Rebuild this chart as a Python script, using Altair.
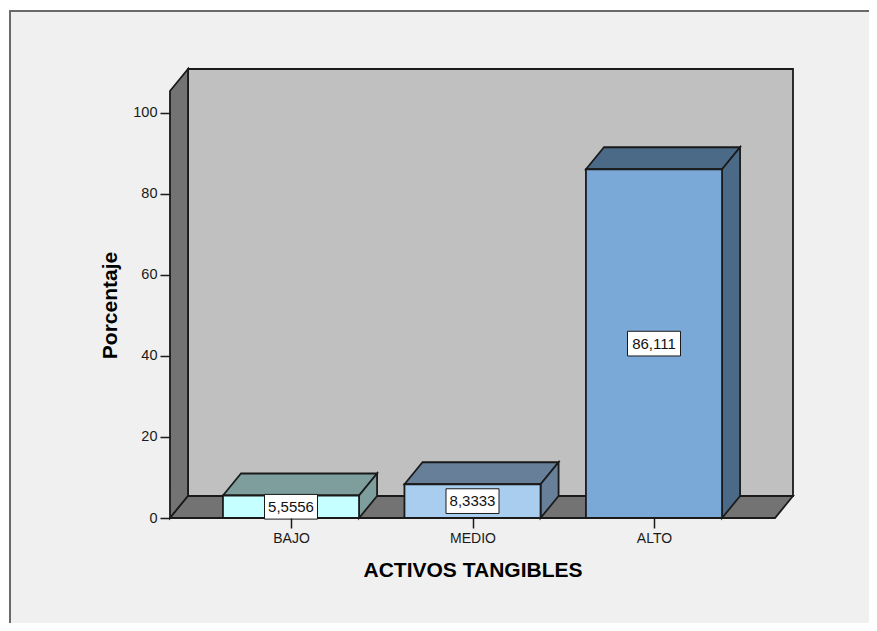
import altair as alt
import pandas as pd

categories = ["BAJO", "MEDIO", "ALTO"]
values = [5.5556, 8.3333, 86.111]
value_labels = ["5,5556", "8,3333", "86,111"]
front_colors = ["#c6ffff", "#a9cdee", "#7ba9d7"]
dark_colors = ["#7d9e9c", "#677f99", "#4b6a88"]
y_ticks = [0, 20, 40, 60, 80, 100]

# scale layout
X_MIN, X_FRONT, X_MAX = -0.6667, 2.6667, 2.7658
Y_MAX = 110.86
DX, DY = 0.0992, 5.43      # oblique depth of the 3-D projection
HALF_BAR = 0.375
BOX_W, BOX_H = 0.146, 3.05
EDGE = "#1a1a1a"
SW = 1.8

xs = alt.Scale(domain=[X_MIN, X_MAX], nice=False, zero=False)
ys = alt.Scale(domain=[0, Y_MAX], nice=False, zero=False)

label_expr = "[" + ",".join(f"'{c}'" for c in categories) + "][datum.value]"
x_axis = alt.Axis(
    values=[0, 1, 2], labelExpr=label_expr, grid=False, domain=False, zindex=1,
    tickSize=10, tickWidth=1.5, tickColor=EDGE, labelPadding=3,
    labelFont="Liberation Sans", labelFontSize=14, labelColor="#1a1a1a",
    title="ACTIVOS TANGIBLES", titleFont="Liberation Sans", titleFontSize=21,
    titleFontWeight="bold", titleColor="#000000", titleX=302.5, titleY=52,
    titleBaseline="middle", titleAlign="center", labelFlush=False,
)
y_axis = alt.Axis(
    values=y_ticks, grid=False, domain=False, zindex=1,
    tickSize=10, tickWidth=1.5, tickColor=EDGE, labelPadding=3,
    labelFont="Liberation Sans", labelFontSize=14.5, labelColor="#1a1a1a",
    title="Porcentaje", titleFont="Liberation Sans", titleFontSize=21,
    titleFontWeight="bold", titleColor="#000000", titleX=-60, titleY=236,
    titleBaseline="middle", titleAlign="center", labelFlush=False,
)


def X(f):
    return alt.X(f, scale=xs, axis=x_axis)


def Y(f):
    return alt.Y(f, scale=ys, axis=y_axis)


front = pd.DataFrame({
    "x": [i - HALF_BAR for i in range(3)],
    "x2": [i + HALF_BAR for i in range(3)],
    "y": [0.0] * 3,
    "v": values,
    "c": front_colors,
})
top_rows, side_rows = [], []
for i, v in enumerate(values):
    top_rows += [
        {"b": i, "y": v, "x": i - HALF_BAR, "x2": i + HALF_BAR, "c": dark_colors[i]},
        {"b": i, "y": v + DY, "x": i - HALF_BAR + DX, "x2": i + HALF_BAR + DX, "c": dark_colors[i]},
    ]
    side_rows += [
        {"b": i, "x": i + HALF_BAR, "y": 0.0, "y2": v, "c": dark_colors[i]},
        {"b": i, "x": i + HALF_BAR + DX, "y": DY, "y2": v + DY, "c": dark_colors[i]},
    ]
top = pd.DataFrame(top_rows)
side = pd.DataFrame(side_rows)
labels = pd.DataFrame({
    "x": list(range(3)),
    "xa": [i - BOX_W for i in range(3)],
    "xb": [i + BOX_W for i in range(3)],
    "y": [v / 2 for v in values],
    "ya": [v / 2 - BOX_H for v in values],
    "yb": [v / 2 + BOX_H for v in values],
    "t": value_labels,
})

# page frame
frame = alt.Chart(pd.DataFrame({"a": [0]})).mark_rect(
    fill="#f0f0f0", stroke="#6a6a6a", strokeWidth=2
).encode(
    x=alt.value(-160), x2=alt.value(730), y=alt.value(-58), y2=alt.value(590)
)

# walls and floor
back = alt.Chart(pd.DataFrame({"x": [X_MIN + DX], "x2": [X_MAX], "y": [DY], "y2": [Y_MAX]})).mark_rect(
    fill="#c0c0c0", stroke=EDGE, strokeWidth=SW
).encode(x=X("x:Q"), x2="x2:Q", y=Y("y:Q"), y2="y2:Q")
left = alt.Chart(pd.DataFrame({
    "x": [X_MIN, X_MIN + DX], "y": [0, DY], "y2": [Y_MAX - DY, Y_MAX]
})).mark_area(fill="#737373", stroke=EDGE, strokeWidth=SW, opacity=1).encode(
    x=X("x:Q"), y=Y("y:Q"), y2="y2:Q",
)
floor = alt.Chart(pd.DataFrame({
    "y": [0, DY], "x": [X_MIN, X_MIN + DX], "x2": [X_FRONT, X_MAX]
})).mark_area(orient="horizontal", fill="#737373", stroke=EDGE, strokeWidth=SW, opacity=1).encode(
    y=Y("y:Q"), x=X("x:Q"), x2="x2:Q",
)

# bars
tops = alt.Chart(top).mark_area(orient="horizontal", stroke=EDGE, strokeWidth=SW, opacity=1).encode(
    y=Y("y:Q"), x=X("x:Q"), x2="x2:Q",
    fill=alt.Fill("c:N", scale=None),
    detail="b:N",
)
sides = alt.Chart(side).mark_area(stroke=EDGE, strokeWidth=SW, opacity=1).encode(
    x=X("x:Q"), y=Y("y:Q"), y2="y2:Q",
    fill=alt.Fill("c:N", scale=None),
    detail="b:N",
)
fronts = alt.Chart(front).mark_rect(stroke=EDGE, strokeWidth=SW).encode(
    x=X("x:Q"), x2="x2:Q", y=Y("y:Q"), y2="v:Q",
    fill=alt.Fill("c:N", scale=None),
)

boxes = alt.Chart(labels).mark_rect(fill="white", stroke=EDGE, strokeWidth=1).encode(
    x=X("xa:Q"), x2="xb:Q", y=Y("ya:Q"), y2="yb:Q",
)
texts = alt.Chart(labels).mark_text(
    font="Liberation Sans", fontSize=15, color="#111111", baseline="middle"
).encode(x=X("x:Q"), y=Y("y:Q"), text="t:N")

chart = alt.layer(
    frame, back, left, floor, tops, sides, fronts, boxes, texts
).properties(
    width=623, height=449, background="white",
    autosize=alt.AutoSizeParams(type="none"),
    padding={"left": 162, "top": 61, "right": 76, "bottom": 105},
).configure_view(stroke=None)

chart.save("out.html", embed_options={"renderer": "svg", "actions": False})
